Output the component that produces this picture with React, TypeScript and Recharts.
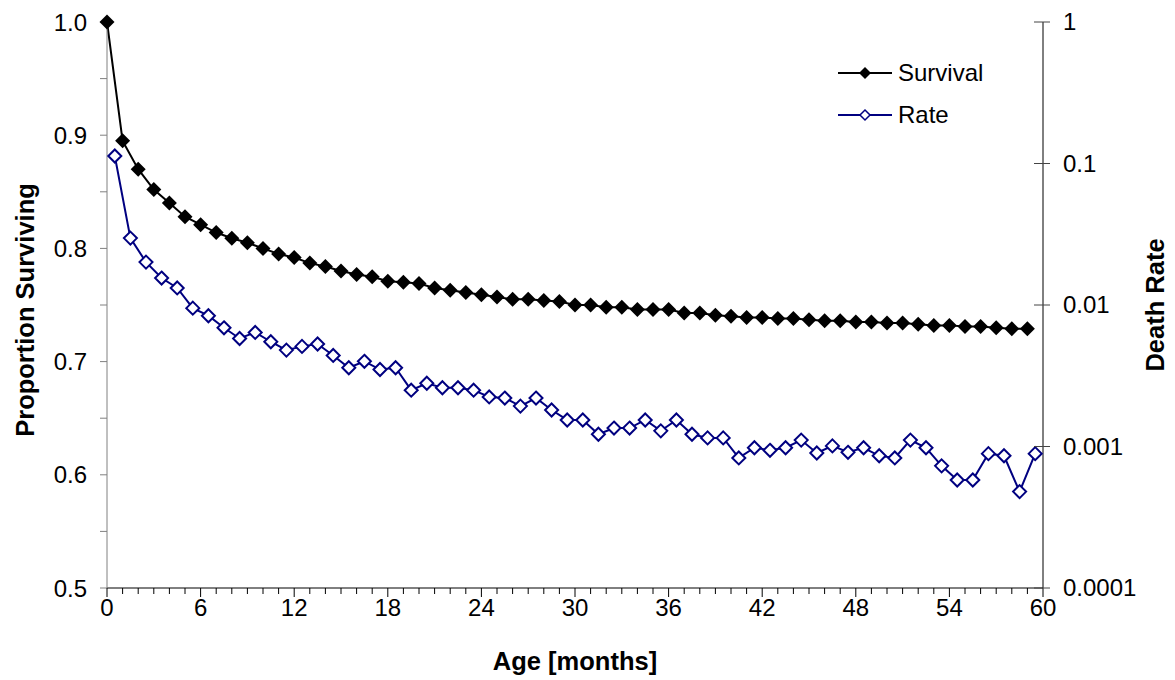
import React from 'react';
import { ComposedChart, Line, XAxis, YAxis, Legend, Label } from 'recharts';

// proportion surviving at each whole month, 0..59
const survival = [
    1.0, 0.895, 0.87, 0.852, 0.84, 0.828, 0.821, 0.814, 0.809, 0.805,
    0.8, 0.795, 0.792, 0.787, 0.784, 0.78, 0.777, 0.775, 0.771, 0.77,
    0.769, 0.765, 0.763, 0.761, 0.759, 0.757, 0.755, 0.755, 0.754, 0.753,
    0.75, 0.75, 0.748, 0.748, 0.746, 0.746, 0.746, 0.743, 0.743, 0.741,
    0.74, 0.739, 0.739, 0.738, 0.738, 0.737, 0.736, 0.736, 0.735, 0.735,
    0.734, 0.734, 0.733, 0.732, 0.732, 0.731, 0.731, 0.73, 0.729, 0.729,
];

// monthly death rate, plotted at mid-month (0.5..59.5)
const deathRate = [
    0.113, 0.0297, 0.0201, 0.0155, 0.0132, 0.0095, 0.0084, 0.0069, 0.0058, 0.0064,
    0.0055, 0.0048, 0.0051, 0.0053, 0.0044, 0.0036, 0.004, 0.0035, 0.0036, 0.0025,
    0.0028, 0.0026, 0.0026, 0.0025, 0.00224, 0.0022, 0.00193, 0.0022, 0.00181, 0.00154,
    0.00154, 0.00122, 0.00135, 0.00135, 0.00154, 0.00129, 0.00154, 0.00122, 0.00115, 0.00115,
    0.00083, 0.00098, 0.00094, 0.00098, 0.00111, 0.0009, 0.00101, 0.00091, 0.00098, 0.00086,
    0.00083, 0.00111, 0.00098, 0.00073, 0.00058, 0.00058, 0.00089, 0.00086, 0.00048, 0.00089,
];

const ageTicks = Array.from({ length: 61 }, (_, i) => i);
const leftTicks = [0.5, 0.55, 0.6, 0.65, 0.7, 0.75, 0.8, 0.85, 0.9, 0.95, 1.0];
const rightTicks = [0.0001, 0.001, 0.01, 0.1, 1];

const survivalData = survival.map((v, i) => ({ age: i, value: v }));
const rateData = deathRate.map((v, i) => ({ age: i + 0.5, value: v }));

const FONT = '"Liberation Sans", Arial, sans-serif';
const NAVY = '#000080';

const diamond = (cx: number, cy: number, r: number) =>
    `${cx},${cy - r} ${cx + r},${cy} ${cx},${cy + r} ${cx - r},${cy}`;

const SurvivalDot = (props: any) => {
    const { cx, cy, index } = props;
    if (cx == null || cy == null) return <g key={`s-${index}`} />;
    return <polygon key={`s-${index}`} points={diamond(cx, cy, 7.5)} fill="#000" />;
};

const RateDot = (props: any) => {
    const { cx, cy, index } = props;
    if (cx == null || cy == null) return <g key={`r-${index}`} />;
    return <polygon key={`r-${index}`} points={diamond(cx, cy, 6.5)} fill="#fff" stroke={NAVY} strokeWidth={2} />;
};

const AgeTick = (props: any) => {
    const { x, y, payload } = props;
    const v = payload.value;
    const major = v % 6 === 0;
    return (
        <g>
            <line x1={x} x2={x} y1={y} y2={y + (major ? 9 : 6)} stroke="#000" />
            {major && (
                <text x={x} y={y + 28} textAnchor="middle" fontSize={24} fontFamily={FONT} fill="#000">
                    {v}
                </text>
            )}
        </g>
    );
};

const RateTick = (props: any) => {
    const { x, y, payload } = props;
    return (
        <g>
            <line x1={x - 9} x2={x + 7} y1={y} y2={y} stroke="#444" />
            <text x={x + 20} y={y} dy="0.35em" textAnchor="start" fontSize={24} fontFamily={FONT} fill="#000">
                {String(payload.value)}
            </text>
        </g>
    );
};

const LegendBox = () => (
    <div style={{ fontFamily: FONT, fontSize: 24, color: '#000', lineHeight: '42px' }}>
        <div style={{ display: 'flex', alignItems: 'center', height: 42 }}>
            <svg width={54} height={20} style={{ marginRight: 6 }}>
                <line x1={0} x2={54} y1={10} y2={10} stroke="#000" strokeWidth={2} />
                <polygon points={diamond(27, 10, 6)} fill="#000" />
            </svg>
            <span>Survival</span>
        </div>
        <div style={{ display: 'flex', alignItems: 'center', height: 42 }}>
            <svg width={54} height={20} style={{ marginRight: 6 }}>
                <line x1={0} x2={54} y1={10} y2={10} stroke={NAVY} strokeWidth={2} />
                <polygon points={diamond(27, 10, 5)} fill="#fff" stroke={NAVY} strokeWidth={1.5} />
            </svg>
            <span>Rate</span>
        </div>
    </div>
);

export default function App() {
    return (
        <div style={{ position: 'absolute', left: 0, top: 0, width: 1175, height: 680, background: '#fff' }}>
            <ComposedChart width={1175} height={680} margin={{ top: 22, right: 0, bottom: 0, left: 0 }}>
                <XAxis
                    dataKey="age"
                    type="number"
                    domain={[0, 60]}
                    ticks={ageTicks}
                    interval={0}
                    height={92}
                    stroke="#000"
                    tickLine={false}
                    tickSize={0}
                    tickMargin={0}
                    tick={<AgeTick />}
                >
                    <Label
                        content={() => (
                            <text x={575} y={661} textAnchor="middle" dy="0.35em" fontSize={25.5} fontWeight="bold" fontFamily={FONT} fill="#000">
                                Age [months]
                            </text>
                        )}
                    />
                </XAxis>
                <YAxis
                    yAxisId="left"
                    domain={[0.5, 1]}
                    ticks={leftTicks}
                    interval={0}
                    width={107}
                    stroke="#808080"
                    tickSize={7}
                    tickMargin={13}
                    tick={{ fill: '#000', fontSize: 24, fontFamily: FONT }}
                    tickFormatter={(v: number) => (Math.abs(v * 10 - Math.round(v * 10)) < 1e-6 ? v.toFixed(1) : '')}
                >
                    <Label
                        content={() => (
                            <text x={25} y={310} transform="rotate(-90 25 310)" textAnchor="middle" dy="0.35em" fontSize={25.5} fontWeight="bold" fontFamily={FONT} fill="#000">
                                Proportion Surviving
                            </text>
                        )}
                    />
                </YAxis>
                <YAxis
                    yAxisId="right"
                    orientation="right"
                    scale="log"
                    type="number"
                    domain={[0.0001, 1]}
                    ticks={rightTicks}
                    interval={0}
                    width={132}
                    stroke="#000"
                    tickLine={false}
                    tickSize={0}
                    tickMargin={0}
                    tick={<RateTick />}
                >
                    <Label
                        content={() => (
                            <text x={1155} y={305} transform="rotate(-90 1155 305)" textAnchor="middle" dy="0.35em" fontSize={25.5} fontWeight="bold" fontFamily={FONT} fill="#000">
                                Death Rate
                            </text>
                        )}
                    />
                </YAxis>
                <Legend
                    layout="vertical"
                    align="center"
                    verticalAlign="middle"
                    content={<LegendBox />}
                    wrapperStyle={{ position: 'absolute', left: 838, top: 52, width: 200, height: 84 }}
                />
                <Line
                    yAxisId="left"
                    data={survivalData}
                    dataKey="value"
                    name="Survival"
                    stroke="#000"
                    strokeWidth={2}
                    dot={SurvivalDot}
                    activeDot={false}
                    isAnimationActive={false}
                />
                <Line
                    yAxisId="right"
                    data={rateData}
                    dataKey="value"
                    name="Rate"
                    stroke={NAVY}
                    strokeWidth={2}
                    dot={RateDot}
                    activeDot={false}
                    isAnimationActive={false}
                />
            </ComposedChart>
        </div>
    );
}
